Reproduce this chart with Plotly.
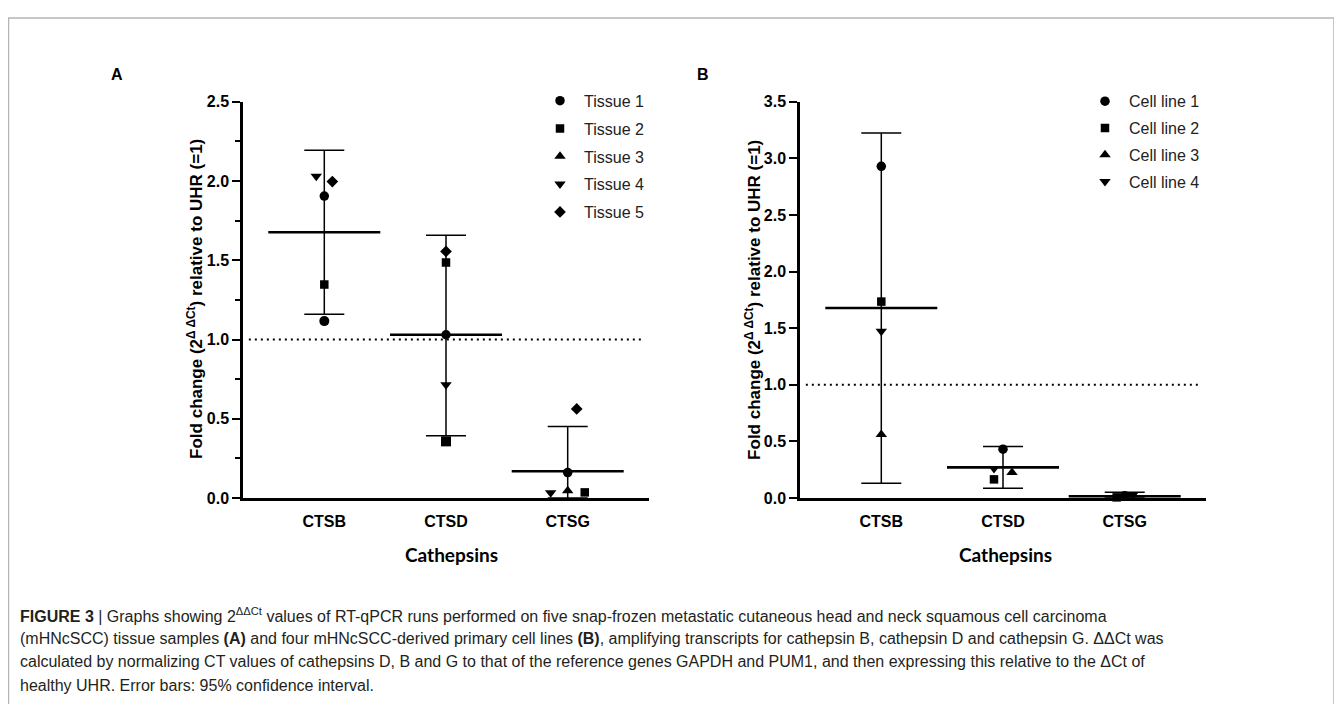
import plotly.graph_objects as go

# ---------------- data ----------------
CATEGORIES = ["CTSB", "CTSD", "CTSG"]

# Panel A: tissues
A_SERIES_NAMES = ["Tissue 1", "Tissue 2", "Tissue 3", "Tissue 4", "Tissue 5"]
A_TISSUE_1 = [1.905, 1.03, 0.16]
A_TISSUE_2 = [1.347, 1.486, 0.035]
A_TISSUE_3 = [1.116, 0.357, 0.045]
A_TISSUE_4 = [2.03, 0.714, 0.033]
A_TISSUE_5 = [1.997, 1.556, 0.562]
A_MEAN = [1.677, 1.03, 0.168]
A_CI_LOW = [1.159, 0.392, -0.115]
A_CI_HIGH = [2.194, 1.658, 0.451]

# Panel B: cell lines
B_SERIES_NAMES = ["Cell line 1", "Cell line 2", "Cell line 3", "Cell line 4"]
B_CELL_1 = [2.93, 0.431, 0.02]
B_CELL_2 = [1.735, 0.164, 0.005]
B_CELL_3 = [0.56, 0.224, 0.01]
B_CELL_4 = [1.474, 0.259, 0.025]
B_MEAN = [1.678, 0.27, 0.015]
B_CI_LOW = [0.129, 0.085, -0.02]
B_CI_HIGH = [3.224, 0.454, 0.05]

REF_LEVEL = 1.0

# ---------------- styles ----------------
# page is 1342x712; the browser body keeps an 8px margin around the plot div
PAGE_W, PAGE_H = 1342, 712
OX, OY = 8, 8
W, H = PAGE_W - 2 * OX, PAGE_H - 2 * OY
SYMBOLS = ["circle", "square", "triangle-up", "triangle-down", "diamond"]
SIZE_BY_SYMBOL = {"circle": 9.5, "square": 8.5, "triangle-up": 10, "triangle-down": 10, "diamond": 9}
# per-point symbol overrides as seen in the figure (panel A)
A_POINT_SYMBOLS = [
    ["circle"] * 3,
    ["square"] * 3,
    ["circle", "square", "triangle-up"],
    ["triangle-down"] * 3,
    ["diamond"] * 3,
]
B_POINT_SYMBOLS = [[s] * 3 for s in SYMBOLS[:4]]
# horizontal scatter offsets (category units)
A_OFFSETS = [
    [0, 0, 0],
    [0, 0, 0.14],
    [0, 0, 0],
    [-0.066, 0, -0.14],
    [0.066, 0, 0.074],
]
B_OFFSETS = [
    [0, 0, 0],
    [0, -0.074, -0.066],
    [0, 0.074, 0],
    [0, -0.074, 0.066],
]

XRANGE = [-0.668, 2.668]
FONT = "Liberation Sans, Arial, sans-serif"


def px_x(x):
    """screen pixel x -> paper coordinate"""
    return (x - OX) / W


def px_y(y):
    """screen pixel y -> paper coordinate"""
    return 1 - (y - OY) / H


fig = go.Figure()


def add_panel(series_names, series_vals, point_syms, offsets, mean, lo, hi, xa, ya, legend, ymin):
    xs = list(range(len(CATEGORIES)))
    fig.add_trace(go.Scatter(
        x=xs, y=mean, mode="markers", xaxis=xa, yaxis=ya, showlegend=False,
        hoverinfo="skip", cliponaxis=False,
        marker=dict(symbol="line-ew", size=80, color="black", line=dict(width=2.6, color="black")),
        error_y=dict(type="data", symmetric=False,
                     array=[h - m for h, m in zip(hi, mean)],
                     arrayminus=[m - max(l, ymin) for l, m in zip(lo, mean)],
                     width=20, thickness=1.5, color="black"),
    ))
    for k, (name, vals) in enumerate(zip(series_names, series_vals)):
        order = list(reversed(range(len(CATEGORIES))))
        syms = [point_syms[k][i] for i in order]
        fig.add_trace(go.Scatter(
            x=[xs[i] + offsets[k][i] for i in order],
            y=[vals[i] for i in order],
            mode="markers", name=name, xaxis=xa, yaxis=ya, legend=legend,
            legendgroup=legend + name, cliponaxis=False,
            marker=dict(symbol=syms, size=SIZE_BY_SYMBOL[syms[0]], color="black"),
        ))


add_panel(A_SERIES_NAMES, [A_TISSUE_1, A_TISSUE_2, A_TISSUE_3, A_TISSUE_4, A_TISSUE_5],
          A_POINT_SYMBOLS, A_OFFSETS, A_MEAN, A_CI_LOW, A_CI_HIGH, "x", "y", "legend", 0.0)
add_panel(B_SERIES_NAMES, [B_CELL_1, B_CELL_2, B_CELL_3, B_CELL_4],
          B_POINT_SYMBOLS, B_OFFSETS, B_MEAN, B_CI_LOW, B_CI_HIGH, "x2", "y2", "legend2", 0.0)

ydom = [px_y(502), px_y(96)]
axis_common = dict(showline=True, linewidth=2.5, linecolor="black", showgrid=False, zeroline=False)
xaxis_common = dict(axis_common, range=XRANGE, tickmode="array", tickvals=[0, 1, 2], ticktext=CATEGORIES,
                    ticks="", ticklabelstandoff=7,
                    tickfont=dict(family=FONT, size=16, weight="bold", color="black"))
yaxis_common = dict(axis_common, ticks="outside", ticklen=8, tickwidth=2, tickcolor="black",
                    tickformat=".1f", dtick=0.5, tick0=0,
                    tickfont=dict(family=FONT, size=16, weight="bold", color="black"))

fig.update_layout(
    width=W, height=H, margin=dict(l=0, r=0, t=0, b=0),
    paper_bgcolor="white", plot_bgcolor="white",
    font=dict(family=FONT, size=16, color="black"),
    xaxis=dict(xaxis_common, domain=[px_x(243), px_x(649)], anchor="y"),
    yaxis=dict(yaxis_common, domain=ydom, range=[0, 2.5], anchor="x",
               minor=dict(ticks="outside", ticklen=5, tickwidth=2, tickcolor="black", dtick=0.25)),
    xaxis2=dict(xaxis_common, domain=[px_x(800), px_x(1206)], anchor="y2"),
    yaxis2=dict(yaxis_common, domain=ydom, range=[0, 3.5], anchor="x2"),
    legend=dict(x=px_x(536), y=px_y(77.5), xanchor="left", yanchor="top", itemwidth=38,
                font=dict(family=FONT, size=16, color="#222"), bgcolor="rgba(0,0,0,0)",
                traceorder="grouped", tracegroupgap=4),
    legend2=dict(x=px_x(1081), y=px_y(78), xanchor="left", yanchor="top", itemwidth=38,
                 font=dict(family=FONT, size=16, color="#222"), bgcolor="rgba(0,0,0,0)",
                 traceorder="grouped", tracegroupgap=3),
    showlegend=True,
)

# reference line at UHR level
for xa, ya in (("x", "y"), ("x2", "y2")):
    fig.add_shape(type="line", xref=xa, yref=ya, x0=-0.62, x1=2.62, y0=REF_LEVEL, y1=REF_LEVEL,
                  line=dict(color="black", width=2, dash="2px,4px"))

# frame
fig.add_shape(type="path", xref="paper", yref="paper",
              path=f"M {px_x(8.5)},{px_y(720)} L {px_x(8.5)},{px_y(10)} L {px_x(1334)},{px_y(10)} L {px_x(1334)},{px_y(720)}",
              line=dict(color="#b5b5b5", width=1.5))

ytitle = "Fold change (2<sup>Δ ΔCt</sup>) relative to UHR (=1)"
annotations = [
    dict(x=px_x(195), y=px_y(298), text=ytitle, textangle=-90),
    dict(x=px_x(753), y=px_y(299), text=ytitle, textangle=-90),
]
annotations = [dict(a, xref="paper", yref="paper", showarrow=False, xanchor="center", yanchor="middle",
                    font=dict(family=FONT, size=17, weight="bold", color="black")) for a in annotations]
for txt, x in (("A", 117), ("B", 703)):
    annotations.append(dict(x=px_x(x), y=px_y(68), text=txt, xref="paper", yref="paper", showarrow=False,
                            xanchor="center", yanchor="middle",
                            font=dict(family=FONT, size=16, weight="bold", color="black")))
for x in (452, 1005):
    annotations.append(dict(x=px_x(x), y=px_y(560), text="Cathepsins", xref="paper", yref="paper",
                            showarrow=False, xanchor="center", yanchor="middle",
                            font=dict(family="Lato, sans-serif", size=19, weight="bold", color="black")))

caption = [
    "<b>FIGURE 3</b> | Graphs showing 2<sup>ΔΔCt</sup> values of RT-qPCR runs performed on five snap-frozen metastatic cutaneous head and neck squamous cell carcinoma",
    "(mHNcSCC) tissue samples <b>(A)</b> and four mHNcSCC-derived primary cell lines <b>(B)</b>, amplifying transcripts for cathepsin B, cathepsin D and cathepsin G. ΔΔCt was",
    "calculated by normalizing CT values of cathepsins D, B and G to that of the reference genes GAPDH and PUM1, and then expressing this relative to the ΔCt of",
    "healthy UHR. Error bars: 95% confidence interval.",
]
for i, line in enumerate(caption):
    annotations.append(dict(x=px_x(18), y=px_y(622 + 24 * i), text=line, xref="paper", yref="paper",
                            showarrow=False, xanchor="left", yanchor="middle",
                            font=dict(family=FONT, size=16, color="#231f20")))

fig.update_layout(annotations=annotations)
fig.write_html("out.html", config={"displayModeBar": False})
